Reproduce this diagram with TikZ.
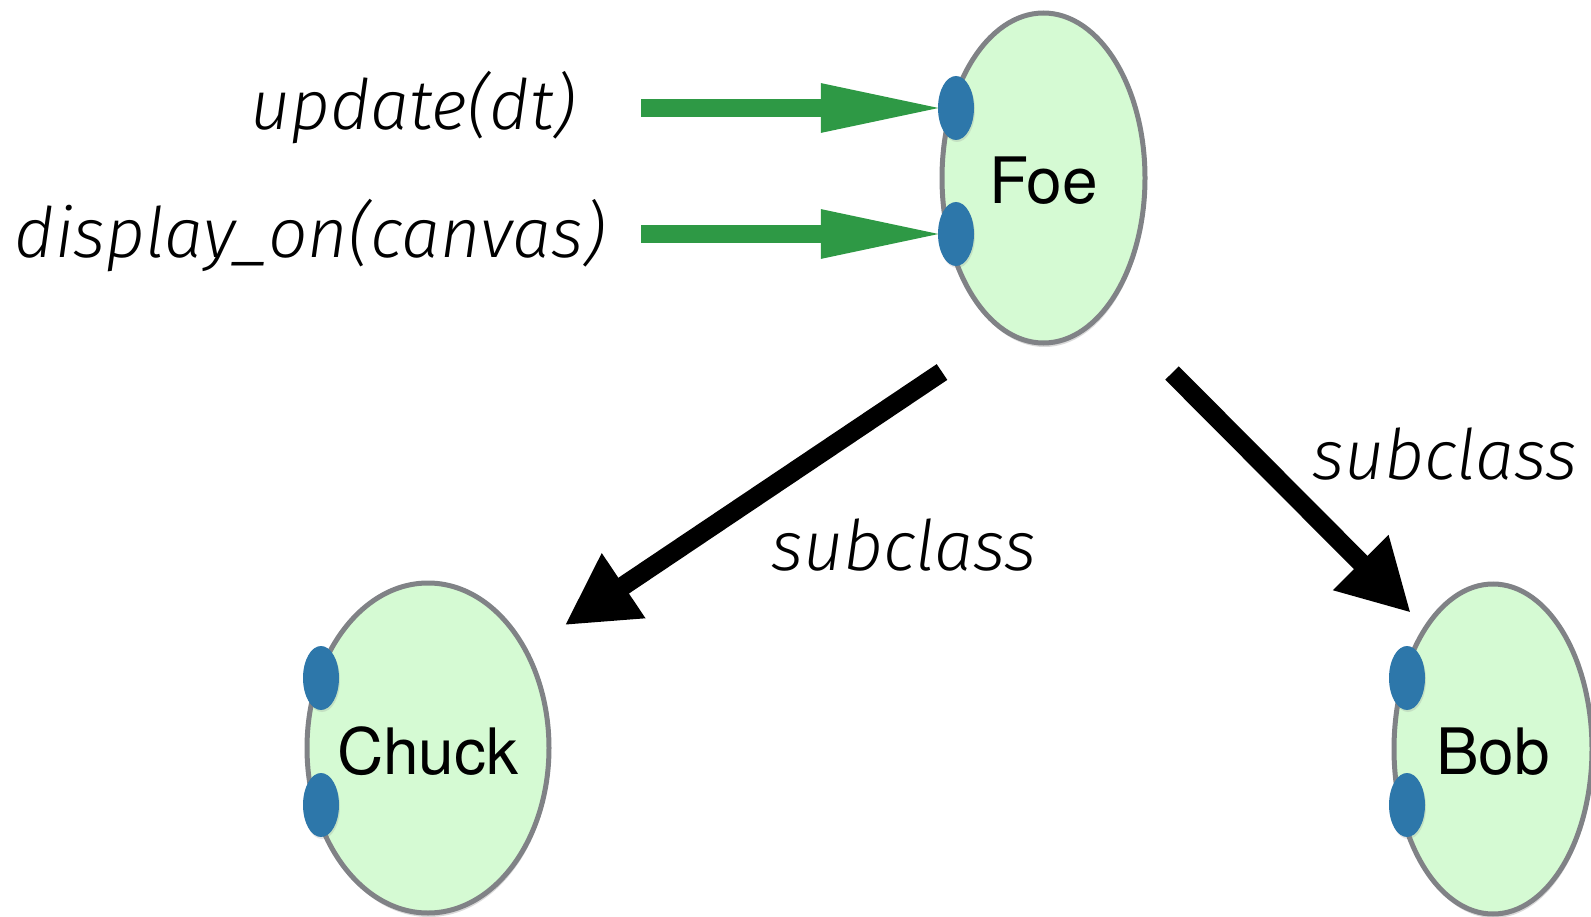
\documentclass[tikz,border=0pt]{standalone}
\usepackage{fontspec}
\usetikzlibrary{arrows.meta,shapes.geometric,shadows}
\newfontfamily\methodfont{Fira Sans Light Italic}
\newfontfamily\classfont{TeX Gyre Heros}
\definecolor{classfill}{RGB}{213,250,211}
\definecolor{classedge}{RGB}{128,130,134}
\definecolor{portblue}{RGB}{45,119,170}
\definecolor{msggreen}{RGB}{46,153,69}
\tikzset{
  classnode/.style={ellipse, draw=classedge, line width=5pt, fill=classfill,
    inner sep=0pt, minimum height=330pt,
    drop shadow={shadow xshift=1pt, shadow yshift=-4pt, opacity=0.3}},
  classname/.style={font=\classfont\fontsize{64}{64}\selectfont, inner sep=0pt},
  port/.style={ellipse, fill=portblue, inner sep=0pt, minimum width=36pt, minimum height=64pt,
    drop shadow={shadow xshift=1pt, shadow yshift=-2pt, opacity=0.2}},
  method/.style={font=\methodfont\fontsize{69.5}{69.5}\selectfont, inner sep=0pt},
  message/.style={draw=msggreen, line width=18pt, shorten >=-10pt,
    -{Triangle[length=127pt,width=44pt]}},
  inherits/.style={draw=black, line width=19pt, shorten >=-4pt,
    -{Triangle[length=71pt,width=73pt]}}
}
\begin{document}
\begin{tikzpicture}[x=1pt,y=-1pt]
  \useasboundingbox (0,0) rectangle (1591,917);

  % classes
  \node[classnode, minimum width=203pt] (foe) at (1043.5,178) {};
  \node[classname] at ([yshift=-3pt]foe.center) {Foe};
  \node[classnode, minimum width=242pt] (chuck) at (428,748) {};
  \node[classname] at ([yshift=-3pt]chuck.center) {Chuck};
  \node[classnode, minimum width=198pt] (bob) at (1493,749) {};
  \node[classname] at ([yshift=-3pt]bob.center) {Bob};

  % method ports
  \node[port] (foeA) at (956,108) {};
  \node[port] (foeB) at (956,234) {};
  \node[port] (chuckA) at (321,678) {};
  \node[port] (chuckB) at (321,805) {};
  \node[port] (bobA) at (1407,678) {};
  \node[port] (bobB) at (1407,805) {};

  % incoming messages
  \node[method, anchor=base east] (upd) at (576,130) {update(dt)};
  \node[method, anchor=base east] (disp) at (606,258) {display\_on(canvas)};
  \coordinate (updStart) at (641,108);
  \coordinate (dispStart) at (641,234);
  \draw[message] (updStart) -- (foeA);
  \draw[message] (dispStart) -- (foeB);

  % inheritance
  \coordinate (leftFrom) at (942,372);
  \coordinate (leftTo) at (568,623);
  \coordinate (rightFrom) at (1172,373);
  \coordinate (rightTo) at (1408,610);
  \draw[inherits] (leftFrom) -- (leftTo);
  \draw[inherits] (rightFrom) -- (rightTo);
  \node[method, anchor=base west] (subL) at (771,570) {subclass};
  \node[method, anchor=base west] (subR) at (1312,479) {subclass};
\end{tikzpicture}
\end{document}
